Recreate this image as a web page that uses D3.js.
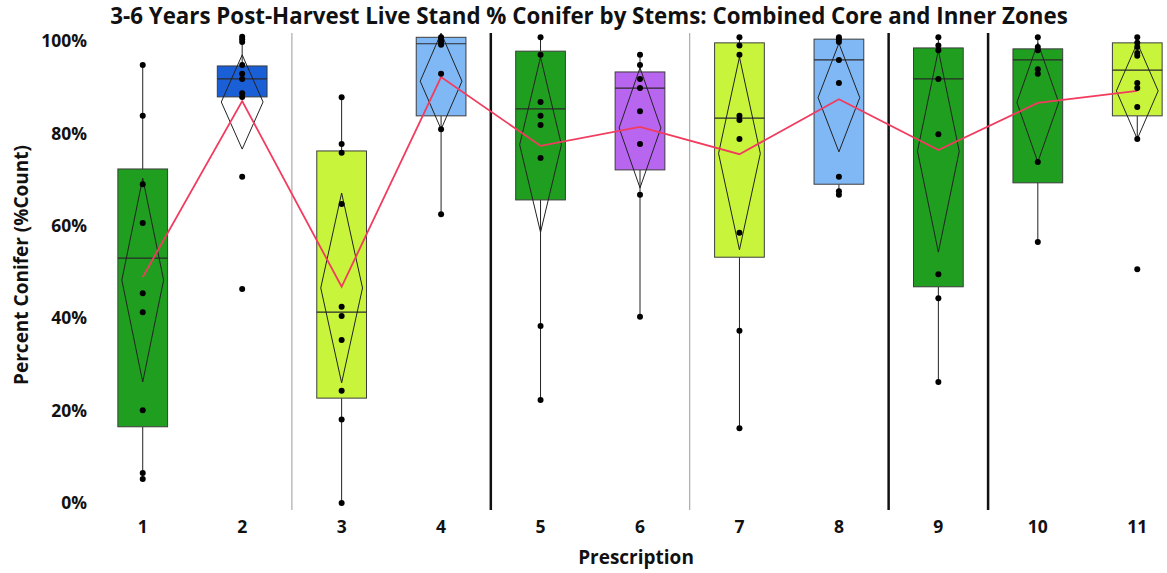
<!DOCTYPE html>
<html>
<head>
<meta charset="utf-8">
<script src="https://cdn.jsdelivr.net/npm/d3@7"></script>
<style>
  html, body { margin: 0; padding: 0; background: #fff; }
  svg { display: block; font-family: "Open Sans", "Noto Sans", sans-serif; }
</style>
</head>
<body>
<svg id="chart" width="1167" height="573"></svg>
<script>
// ---------- data ----------
const categories = ["1","2","3","4","5","6","7","8","9","10","11"];
const yTicks = [0, 20, 40, 60, 80, 100];
const q1      = [16.5, 87.9, 22.7, 83.8, 65.6, 72.1, 53.2, 69.0, 46.8, 69.3, 83.8];
const medians = [53.0, 91.8, 41.3, 99.4, 85.3, 89.8, 83.3, 95.9, 91.8, 95.9, 93.7];
const q3      = [72.3, 94.6, 76.2, 100.8, 97.8, 93.3, 99.6, 100.4, 98.5, 98.3, 99.6];
const whiskLo = [5.2, 87.9, 0.0, 62.5, 22.3, 40.3, 16.2, 66.7, 26.2, 56.5, 78.8];
const whiskHi = [94.8, 100.9, 87.8, 100.8, 100.8, 97.0, 100.8, 100.8, 100.8, 100.8, 100.8];
const means   = [48.9, 87.0, 46.8, 92.2, 77.3, 81.4, 75.5, 87.4, 76.4, 86.6, 89.2];
const ciLo    = [26.2, 76.6, 26.0, 80.9, 58.6, 68.2, 54.8, 76.0, 54.3, 73.8, 78.8];
const ciHi    = [70.3, 97.0, 67.1, 101.7, 96.5, 94.2, 96.5, 99.5, 98.0, 99.6, 99.6];
const points = [
  [94.8, 83.8, 69.0, 60.6, 45.4, 41.3, 20.1, 6.5, 5.2],
  [100.9, 100.4, 99.8, 94.8, 92.9, 91.8, 88.7, 87.9, 70.6, 46.3],
  [87.8, 77.7, 75.8, 64.7, 42.5, 40.5, 35.3, 24.3, 18.1, 0.0],
  [100.8, 100.3, 99.8, 99.2, 92.9, 80.9, 62.5],
  [100.8, 97.0, 86.8, 83.8, 81.8, 74.7, 38.3, 22.3],
  [97.0, 94.8, 91.8, 89.8, 84.8, 77.7, 66.7, 40.3],
  [100.8, 99.0, 97.0, 83.8, 82.9, 78.8, 58.5, 37.3, 16.2],
  [100.8, 100.4, 99.8, 95.9, 90.9, 70.6, 67.5, 66.7],
  [100.8, 99.0, 98.0, 91.8, 79.8, 49.5, 44.3, 26.2],
  [100.8, 98.7, 98.0, 93.9, 92.9, 73.8, 56.5],
  [100.8, 99.6, 98.7, 97.4, 96.8, 90.9, 89.8, 85.7, 78.8, 50.6]
];
const thinSeparatorsAfter  = ["2", "6"];
const thickSeparatorsAfter = ["4", "8", "9"];
const titleText = "3-6 Years Post-Harvest Live Stand % Conifer by Stems: Combined Core and Inner Zones";
const xTitle = "Prescription";
const yTitle = "Percent Conifer (%Count)";

// ---------- styles ----------
const boxColors = ["#1f9e1f", "#1a5fd6", "#c8f53c", "#80b8f5", "#1f9e1f", "#b865f0",
                   "#c8f53c", "#80b8f5", "#1f9e1f", "#1f9e1f", "#c8f53c"];

// ---------- chart ----------
const svg = d3.select("#chart");
const x = d3.scaleBand().domain(categories).range([93, 1187]).paddingInner(0).paddingOuter(0);
const y = d3.scaleLinear().domain([0, 100]).range([503, 41]);
const bw = x.bandwidth();
const cx = c => x(c) + bw / 2;
const boxHalf = bw * 0.25;
const diaHalf = bw * 0.21;

// separators
const sepTop = 33, sepBot = 510;
svg.append("g").selectAll("line").data(thinSeparatorsAfter).join("line")
  .attr("x1", d => x(d) + bw).attr("x2", d => x(d) + bw)
  .attr("y1", sepTop).attr("y2", sepBot)
  .attr("stroke", "#9a9a9a").attr("stroke-width", 1);
svg.append("g").selectAll("line").data(thickSeparatorsAfter).join("line")
  .attr("x1", d => x(d) + bw).attr("x2", d => x(d) + bw)
  .attr("y1", sepTop).attr("y2", sepBot)
  .attr("stroke", "#111").attr("stroke-width", 2.5);

const stats = categories.map((c, i) => ({
  c, q1: q1[i], med: medians[i], q3: q3[i], lo: whiskLo[i], hi: whiskHi[i],
  mean: means[i], ciLo: ciLo[i], ciHi: ciHi[i], color: boxColors[i], pts: points[i]
}));

const g = svg.append("g");
// whiskers
g.selectAll("line.wl").data(stats).join("line").attr("class", "wl")
  .attr("x1", d => cx(d.c)).attr("x2", d => cx(d.c))
  .attr("y1", d => y(d.q1)).attr("y2", d => y(d.lo))
  .attr("stroke", "#222").attr("stroke-width", 1);
g.selectAll("line.wh").data(stats).join("line").attr("class", "wh")
  .attr("x1", d => cx(d.c)).attr("x2", d => cx(d.c))
  .attr("y1", d => y(d.q3)).attr("y2", d => y(d.hi))
  .attr("stroke", "#222").attr("stroke-width", 1);
// boxes
g.selectAll("rect.box").data(stats).join("rect").attr("class", "box")
  .attr("x", d => cx(d.c) - boxHalf).attr("width", boxHalf * 2)
  .attr("y", d => y(d.q3)).attr("height", d => y(d.q1) - y(d.q3))
  .attr("fill", d => d.color).attr("stroke", "#3d3d3d").attr("stroke-width", 1);
// medians
g.selectAll("line.med").data(stats).join("line").attr("class", "med")
  .attr("x1", d => cx(d.c) - boxHalf).attr("x2", d => cx(d.c) + boxHalf)
  .attr("y1", d => y(d.med)).attr("y2", d => y(d.med))
  .attr("stroke", "#2a2a2a").attr("stroke-width", 1.2);
// mean diamonds
g.selectAll("path.dia").data(stats).join("path").attr("class", "dia")
  .attr("d", d => {
    const mx = cx(d.c), mid = y((d.ciLo + d.ciHi) / 2);
    return `M${mx},${y(d.ciHi)}L${mx + diaHalf},${mid}L${mx},${y(d.ciLo)}L${mx - diaHalf},${mid}Z`;
  })
  .attr("fill", "none").attr("stroke", "#222").attr("stroke-width", 1);
// mean connect line
const line = d3.line().x(d => cx(d.c)).y(d => y(d.mean));
g.append("path").datum(stats).attr("d", line)
  .attr("fill", "none").attr("stroke", "#f23c5f").attr("stroke-width", 1.8);
// points
stats.forEach(d => {
  g.append("g").selectAll("circle").data(d.pts).join("circle")
    .attr("cx", cx(d.c)).attr("cy", v => y(v)).attr("r", 3)
    .attr("fill", "#000");
});

// axes (labels only)
const yAxis = d3.axisLeft(y).tickValues(yTicks).tickFormat(d => d + "%").tickSize(0).tickPadding(0);
const ya = svg.append("g").attr("transform", "translate(87,0)").call(yAxis);
ya.select(".domain").remove();
ya.selectAll("text").attr("font-size", 17.5).attr("font-weight", 700).attr("fill", "#111")
  .attr("font-family", "'Open Sans', sans-serif");

const xAxis = d3.axisBottom(x).tickSize(0).tickPadding(0);
const xa = svg.append("g").attr("transform", "translate(0,521)").call(xAxis);
xa.select(".domain").remove();
xa.selectAll("text").attr("font-size", 17.5).attr("font-weight", 700).attr("fill", "#111")
  .attr("font-family", "'Open Sans', sans-serif");

// titles
const t = svg.append("text").attr("x", 589).attr("y", 24).attr("text-anchor", "middle")
  .attr("font-size", 19).attr("font-weight", 700).attr("fill", "#111").text(titleText);
const tw = t.node().getComputedTextLength();
t.attr("font-size", 19 * 958 / tw);

svg.append("text").attr("x", 636).attr("y", 564).attr("text-anchor", "middle")
  .attr("font-size", 19).attr("font-weight", 700).attr("fill", "#111").text(xTitle);
svg.append("text").attr("transform", "translate(28,265) rotate(-90)").attr("text-anchor", "middle")
  .attr("font-size", 19).attr("font-weight", 700).attr("fill", "#111").text(yTitle);
</script>
</body>
</html>
